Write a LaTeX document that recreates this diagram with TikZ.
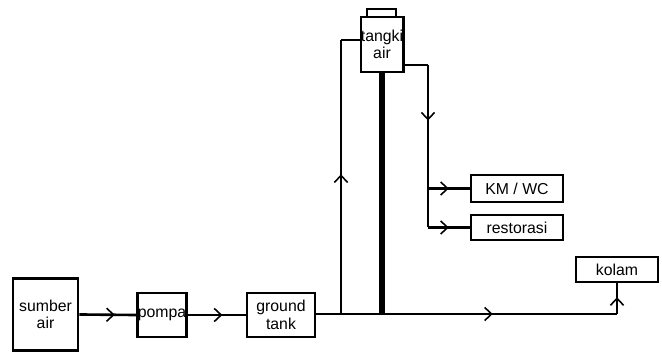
\documentclass[tikz,border=0pt]{standalone}
\usepackage{fontspec}
\setmainfont{Liberation Sans}
\usetikzlibrary{arrows.meta,decorations.markings}

\begin{document}
\begin{tikzpicture}[x=0.02cm,y=-0.02cm,
  box/.style={draw,line width=1.6pt,inner sep=0pt,align=center,font=\fontsize{9}{10}\selectfont},
  pipe/.style={line width=1.5pt},
  chev/.style={postaction={decorate},decoration={markings,
    mark=at position #1 with {\arrow{Straight Barb[length=4pt,width=7.5pt,line width=0.9pt]}}}}]
\path[use as bounding box] (0,0) rectangle (662,354);
% boxes
\node[box,minimum width=1.30cm,minimum height=1.44cm] (sumber) at (45.5,314.5) {sumber\\air};
\node[box,minimum width=0.96cm,minimum height=0.88cm] (pompa) at (162,315) {pompa};
\node[box,minimum width=1.36cm,minimum height=0.88cm] (ground) at (281,315) {ground\\tank};
\node[box,minimum width=0.84cm,minimum height=1.10cm] (tangki) at (382,44.5) {tangki\\air};
\draw[line width=1.6pt] (367,17) rectangle (396,9);
\node[box,minimum width=1.84cm,minimum height=0.54cm] (kmwc) at (517,188.5) {KM / WC};
\node[box,minimum width=1.84cm,minimum height=0.50cm] (restorasi) at (517,227.5) {restorasi};
\node[box,minimum width=1.64cm,minimum height=0.50cm] (kolam) at (617,269.5) {kolam};
% junctions
\coordinate (riser) at (341,314);
\coordinate (pole) at (tangki.south |- riser);
\coordinate (corner) at (kolam.south |- riser);
\coordinate (outlet) at (428,65);
% main line
\draw[pipe,chev=0.62] (sumber.east) -- (pompa.west);
\draw[pipe,chev=0.6] (pompa.west -| pompa.east) -- (ground.west);
\draw[pipe] (ground.east |- riser) -- (riser);
\draw[pipe,chev=0.55] (riser) -- (corner);
\draw[pipe,chev=0.55] (corner) -- (kolam.south);
% up to the tank
\draw[pipe,chev=0.51] (riser) -- (341,40);
\draw[pipe] (341,40) -- (tangki.west |- 341,40);
\draw[line width=3.2pt] (tangki.south) -- (pole);
% from the tank
\draw[pipe] (tangki.east |- outlet) -- (outlet);
\draw[pipe,chev=0.45] (outlet) -- (outlet |- kmwc.west);
\draw[pipe] (outlet |- kmwc.west) -- (outlet |- restorasi.west);
\draw[pipe,chev=0.5] (outlet |- kmwc.west) -- (kmwc.west);
\draw[pipe,chev=0.5] (outlet |- restorasi.west) -- (restorasi.west);
\end{tikzpicture}
\end{document}
